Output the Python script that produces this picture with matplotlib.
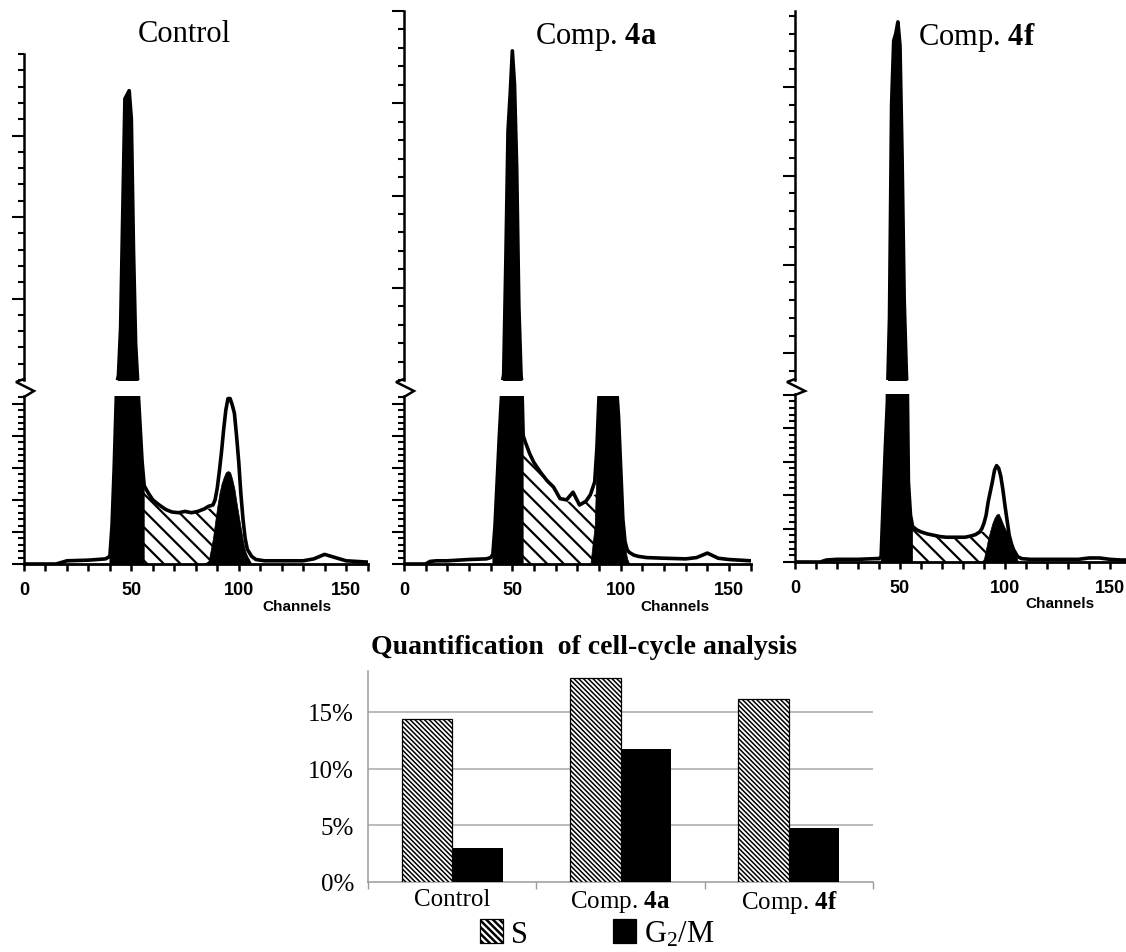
import numpy as np
import matplotlib
matplotlib.use("Agg")
import matplotlib.pyplot as plt
from matplotlib.patches import Patch
from matplotlib.lines import Line2D
from matplotlib.ticker import MultipleLocator, FixedLocator

plt.rcParams['mathtext.fontset'] = 'custom'
plt.rcParams['mathtext.rm'] = 'Liberation Serif'
plt.rcParams['mathtext.bf'] = 'Liberation Serif:bold'
plt.rcParams['mathtext.it'] = 'Liberation Serif:italic'
plt.rcParams['hatch.linewidth'] = 1.2

# ---------------- data: DNA histograms (counts per channel, arbitrary units) ----------------
channels = [0, 10, 12, 15, 20, 30, 38, 40, 41, 42, 43, 44, 45, 46, 47, 48, 49, 50, 51, 52,
            53, 54, 55, 56, 58, 60, 63, 66, 69, 72, 75, 78, 81, 84, 86, 88, 89, 90, 91, 92,
            93, 94, 95, 96, 97, 98, 99, 100, 101, 102, 103, 104, 106, 108, 112, 120, 130,
            135, 140, 145, 150, 155, 160]

control_total = [0, 0, 0, 0, 5, 6, 8, 12, 60, 150, 262, 330, 620, 1330, 2026, 2050, 2075, 1900, 1100, 520,
                 280, 220, 160, 122, 110, 100, 92, 85, 81, 80, 82, 80, 82, 86, 90, 92, 100, 118, 145, 175,
                 210, 240, 258, 258, 248, 235, 200, 160, 110, 70, 40, 23, 12, 7, 5, 5, 5,
                 8, 15, 10, 5, 4, 3]
comp4a_total = [0, 0, 4, 5, 5, 7, 8, 10, 15, 60, 130, 200, 262, 330, 950, 1650, 1850, 2084, 1900, 1450,
                700, 330, 200, 190, 172, 158, 143, 130, 120, 102, 100, 112, 92, 98, 108, 128, 180, 262, 285, 290,
                290, 290, 290, 290, 290, 280, 230, 150, 70, 35, 22, 18, 14, 12, 10, 9, 8,
                10, 17, 9, 7, 6, 5]
comp4f_total = [0, 0, 0, 3, 4, 4, 5, 5, 8, 90, 170, 240, 700, 1900, 2260, 2300, 2366, 2232, 1600, 800,
                400, 120, 70, 53, 48, 45, 42, 40, 38, 37, 37, 37, 37, 39, 41, 45, 50, 58, 70, 90,
                105, 120, 137, 144, 140, 128, 108, 84, 62, 40, 28, 19, 8, 5, 4, 4, 4,
                4, 6, 6, 4, 3, 3]

# G1 gate (channel range drawn in black)
control_g1_gate = (40, 56)
comp4a_g1_gate = (41, 55)
comp4f_g1_gate = (41, 56)

s_channels = [53, 54, 55, 56, 58, 60, 63, 66, 69, 72, 75, 78, 81, 84, 86, 88, 90, 92, 94, 96, 98, 100, 102, 104]
control_s = [125, 124, 123, 122, 110, 100, 92, 85, 81, 79, 78, 79, 81, 84, 86, 88, 89, 80, 60, 40, 20, 0, 0, 0]
comp4a_s = [210, 205, 200, 190, 172, 158, 143, 128, 115, 102, 98, 96, 92, 98, 104, 108, 110, 90, 60, 30, 0, 0, 0, 0]
comp4f_s = [56, 55, 54, 53, 48, 45, 42, 40, 38, 37, 37, 37, 37, 39, 41, 44, 46, 47, 40, 30, 20, 10, 0, 0]

g2_channels = [84, 86, 88, 89, 90, 91, 92, 93, 94, 95, 96, 97, 98, 99, 100, 101, 102, 103, 104, 106]
control_g2 = [0, 5, 40, 65, 89, 110, 125, 135, 143, 145, 143, 132, 117, 95, 75, 55, 35, 20, 12, 0]
comp4a_g2 = [0, 0, 60, 170, 262, 285, 288, 288, 288, 288, 288, 288, 270, 215, 140, 60, 25, 8, 0, 0]
comp4f_g2 = [0, 0, 0, 0, 5, 20, 35, 47, 58, 66, 71, 72, 65, 57, 50, 44, 35, 26, 19, 2]

# ---------------- data: quantification bar chart ----------------
groups = ['Control', r'Comp. $\mathbf{4a}$', r'Comp. $\mathbf{4f}$']
s_phase = [14.4, 18.0, 16.1]
g2m_phase = [3.0, 11.7, 4.8]
ytick_vals = [0, 5, 10, 15]
ytick_labels = ['0%', '5%', '10%', '15%']

# ---------------- figure ----------------
W, H = 1126, 953
fig = plt.figure(figsize=(W / 100, H / 100), dpi=100)


def add_ax(x0, x1, ytop, ybot):
    return fig.add_axes([x0 / W, 1 - ybot / H, (x1 - x0) / W, (ybot - ytop) / H])


def fx(px):
    return px / W


def fy(py):
    return 1 - py / H


panels = [
    dict(title='Control', tx=184, ty=35, total=control_total, gate=control_g1_gate, s=control_s, g2=control_g2,
         x0=24, scale=2.147, up_top=55, up_bot=381, lo_top=397, lo_bot=565, lo_max=262,
         up_lim=(300, 2300), up_major=[800, 1300, 1800], chx=297, chy=607),
    dict(title=r'Comp. $\mathbf{4a}$', tx=596, ty=37, total=comp4a_total, gate=comp4a_g1_gate, s=comp4a_s, g2=comp4a_g2,
         x0=404, scale=2.167, up_top=12, up_bot=381, lo_top=397, lo_bot=565, lo_max=262,
         up_lim=(300, 2300), up_major=[800, 1300, 1800, 2300], chx=675, chy=607),
    dict(title=r'Comp. $\mathbf{4f}$', tx=977, ty=37, total=comp4f_total, gate=comp4f_g1_gate, s=comp4f_s, g2=comp4f_g2,
         x0=795, scale=2.1, up_top=12, up_bot=381, lo_top=395, lo_bot=563, lo_max=251,
         up_lim=(350, 2427), up_major=[500, 1000, 1500, 2000], chx=1060, chy=604),
]

ch = np.array(channels, dtype=float)

for p in panels:
    x1 = p['x0'] + 160 * p['scale']
    ax_up = add_ax(p['x0'], x1, p['up_top'], p['up_bot'])
    ax_lo = add_ax(p['x0'], x1, p['lo_top'], p['lo_bot'])
    tot = np.array(p['total'], dtype=float)
    lo, hi = p['gate']
    m = (ch >= lo) & (ch <= hi)
    for ax in (ax_lo, ax_up):
        coll = ax.fill_between(s_channels, 0, p['s'], facecolor='white', edgecolor='black',
                               hatch='\\\\', linewidth=0, zorder=1)
        try:
            coll.set_hatch_linewidth(1.6)
        except Exception:
            pass
        ax.fill_between(ch[m], 0, tot[m], color='black', linewidth=0.5, zorder=2)
        ax.fill_between(g2_channels, 0, p['g2'], color='black', linewidth=0.5, zorder=2)
        ax.plot(ch, tot, color='black', lw=2.6, zorder=3, solid_joinstyle='round')
        ax.set_xlim(0, 160)
        for sp in ('top', 'right'):
            ax.spines[sp].set_visible(False)
        ax.spines['left'].set_linewidth(1.8)
        ax.patch.set_alpha(0)
    ax_lo.set_ylim(0, p['lo_max'])
    ax_up.set_ylim(*p['up_lim'])
    ax_up.spines['bottom'].set_visible(False)
    ax_up.set_xticks([])
    ax_up.yaxis.set_major_locator(FixedLocator(p['up_major']))
    ax_up.yaxis.set_minor_locator(MultipleLocator(100))
    ax_lo.yaxis.set_major_locator(MultipleLocator(50))
    ax_lo.yaxis.set_minor_locator(MultipleLocator(10))
    for ax in (ax_up, ax_lo):
        ax.tick_params(axis='y', which='major', direction='out', length=9, width=1.5, labelleft=False)
        ax.tick_params(axis='y', which='minor', direction='out', length=4, width=1.5)
    ax_lo.spines['bottom'].set_linewidth(2.0)
    ax_lo.xaxis.set_major_locator(FixedLocator([0, 50, 100, 150]))
    ax_lo.xaxis.set_minor_locator(MultipleLocator(10))
    ax_lo.tick_params(axis='x', which='both', direction='out', length=5, width=1.8)
    ax_lo.tick_params(axis='x', which='major', pad=7)
    for lab in ax_lo.get_xticklabels():
        lab.set_fontfamily('Liberation Sans')
        lab.set_fontweight('bold')
        lab.set_fontsize(13)
    # break mark on the y-axis
    ax0 = p['x0']
    yb = p['up_bot']
    zig = Line2D([fx(ax0), fx(ax0 - 8), fx(ax0 + 10), fx(ax0)],
                 [fy(yb - 1), fy(yb + 2), fy(yb + 11), fy(p['lo_top'] + 1)],
                 transform=fig.transFigure, color='black', lw=1.8, solid_joinstyle='miter')
    fig.add_artist(zig)
    # titles and axis labels
    fig.text(fx(p['tx']), fy(p['ty']), p['title'], ha='center', va='center',
             fontsize=22, family='Liberation Serif')
    fig.text(fx(p['chx']), fy(p['chy']), 'Channels', ha='center', va='center',
             fontsize=11, family='Liberation Sans', fontweight='bold')

# ---------------- bar chart ----------------
axb = add_ax(368, 873, 672, 883)
xpos = np.arange(len(groups))
bw = 0.3
bar_hatch = '\\' * 7
bars_s = axb.bar(xpos - bw / 2, s_phase, width=bw, facecolor='white', edgecolor='black',
                 hatch=bar_hatch, linewidth=0.9, zorder=3)
for b in bars_s:
    try:
        b.set_hatch_linewidth(1.1)
    except Exception:
        pass
axb.bar(xpos + bw / 2, g2m_phase, width=bw, color='black', linewidth=0, zorder=3)
axb.set_xlim(-0.5, 2.5)
axb.set_ylim(0, 18.6)
axb.set_yticks(ytick_vals)
axb.set_yticklabels(ytick_labels, fontsize=18, family='Liberation Serif')
axb.tick_params(axis='y', length=0, pad=10)
axb.set_xticks(xpos)
axb.set_xticklabels(groups, fontsize=18, family='Liberation Serif')
axb.tick_params(axis='x', which='major', length=0, pad=4)
axb.set_xticks([-0.5, 0.5, 1.5, 2.5], minor=True)
axb.tick_params(axis='x', which='minor', length=5, width=1, color='#9a9a9a')
for yv in ytick_vals[1:]:
    axb.axhline(yv, color='#a8a8a8', lw=1.1, zorder=1)
for sp in ('top', 'right'):
    axb.spines[sp].set_visible(False)
for sp in ('left', 'bottom'):
    axb.spines[sp].set_color('#9a9a9a')
    axb.spines[sp].set_linewidth(1.1)

fig.text(fx(584), fy(648), 'Quantification  of cell-cycle analysis', ha='center', va='center',
         fontsize=20, family='Liberation Serif', fontweight='bold')

h_s = Patch(facecolor='white', edgecolor='black', hatch='\\' * 5, linewidth=0.9)
h_g = Patch(facecolor='black', edgecolor='black', linewidth=0.9)
leg = fig.legend([h_s, h_g], ['S', r'G$_2$/M'], loc='center', bbox_to_anchor=(fx(597), fy(935)),
                 ncol=2, frameon=False, prop={'family': 'Liberation Serif', 'size': 22},
                 handlelength=0.75, handleheight=0.85, handletextpad=0.25, columnspacing=2.8,
                 borderpad=0, borderaxespad=0)
try:
    leg.legend_handles[0].set_hatch_linewidth(1.8)
except Exception:
    pass

fig.savefig('out.png', dpi=100)
